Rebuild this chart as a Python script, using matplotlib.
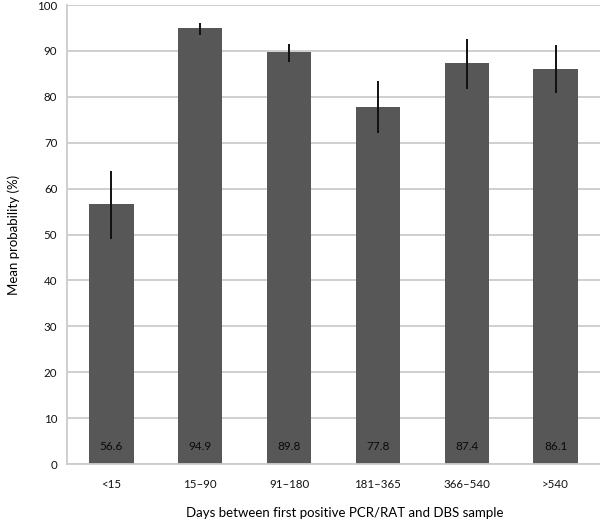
import matplotlib
matplotlib.use("Agg")
import matplotlib.pyplot as plt
import numpy as np

plt.rcParams["font.family"] = ["Lato", "DejaVu Sans"]

# days between first positive test and DBS sample
groups = ["<15", "15\u201390", "91\u2013180", "181\u2013365", "366\u2013540", ">540"]
mean_prob = [56.6, 94.9, 89.8, 77.8, 87.4, 86.1]
ci_low = [49.0, 93.5, 87.6, 72.1, 81.8, 80.8]
ci_high = [63.9, 96.1, 91.6, 83.5, 92.7, 91.4]

x = np.arange(len(groups))
mean_arr = np.array(mean_prob)
yerr = [mean_arr - np.array(ci_low), np.array(ci_high) - mean_arr]

fig = plt.figure(figsize=(6, 5.22), dpi=100)
ax = fig.add_axes([0.1117, 0.111, 0.8883, 0.8793])

ax.set_axisbelow(True)
ax.yaxis.grid(True, color="#cccccc", lw=1.3)
ax.bar(x, mean_prob, width=0.5, color="#575757", zorder=2)
ax.errorbar(x, mean_prob, yerr=yerr, fmt="none", ecolor="#111111",
            elinewidth=1.4, capsize=0, zorder=3)

for xi, v in zip(x, mean_prob):
    ax.text(xi, 3.8, "%.1f" % v, ha="center", va="center",
            fontsize=8.5, color="#0a0a0a", zorder=4)

ax.set_xlim(-0.5, 5.5)
ax.set_ylim(0, 100)
ax.set_yticks(range(0, 101, 10))
ax.set_xticks(x)
ax.set_xticklabels(groups)
ax.tick_params(length=0, labelsize=8.3, colors="#111111")
ax.tick_params(axis="x", pad=11)
ax.tick_params(axis="y", pad=7)

for side in ["top", "right"]:
    ax.spines[side].set_visible(False)
for side in ["left", "bottom"]:
    ax.spines[side].set_color("#cccccc")
    ax.spines[side].set_linewidth(1.3)

ax.set_xlabel("Days between first positive PCR/RAT and DBS sample",
              fontsize=9.5)
ax.xaxis.set_label_coords(0.522, -0.093)
ax.set_ylabel("Mean probability (%)", fontsize=9.5, labelpad=12)

fig.savefig("out.png", dpi=100)
